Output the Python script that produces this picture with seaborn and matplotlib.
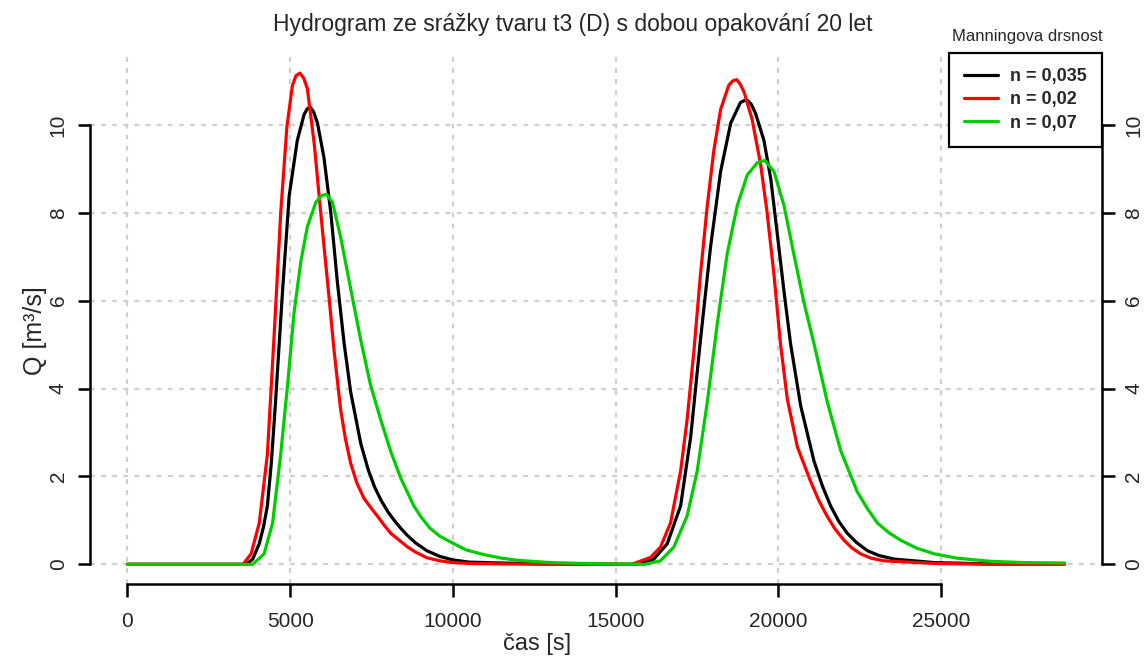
import matplotlib
matplotlib.use("Agg")
import matplotlib.pyplot as plt
import seaborn as sns
import pandas as pd
from matplotlib.lines import Line2D

# ---- data ----
t_black = [0, 3650, 3850, 4050, 4180, 4300, 4420, 4550, 4770, 4970, 5220, 5430, 5520,
           5610, 5720, 5840, 6040, 6250, 6450, 6660, 6860, 7170, 7400, 7600, 7800, 8000,
           8200, 8400, 8600, 8850, 9200, 9600, 10000, 10500, 11500, 13000, 15700, 16180,
           16590, 17000, 17310, 17610, 17920, 18230, 18540, 18840, 18950, 19050, 19170,
           19300, 19560, 19770, 19970, 20180, 20380, 20690, 21100, 21350, 21610, 21860,
           22120, 22400, 22740, 23100, 23560, 24790, 26500, 28800]
q_black = [0, 0, 0.12, 0.47, 0.85, 1.33, 2.30, 3.69, 6.27, 8.39, 9.65, 10.24, 10.36,
           10.41, 10.30, 10.04, 9.25, 8.0, 6.43, 5.02, 3.92, 2.75, 2.15, 1.75, 1.45, 1.20,
           1.0, 0.82, 0.66, 0.49, 0.31, 0.18, 0.10, 0.05, 0.03, 0.01, 0, 0.12,
           0.47, 1.33, 2.90, 5.10, 7.22, 8.94, 10.04, 10.51, 10.55, 10.56, 10.47,
           10.27, 9.65, 8.78, 7.53, 6.20, 5.02, 3.61, 2.35, 1.80, 1.33, 0.98,
           0.71, 0.50, 0.31, 0.20, 0.12, 0.04, 0.01, 0.01]

t_red = [0, 3550, 3800, 4050, 4300, 4510, 4710, 4900, 5070, 5180, 5300, 5420, 5530,
         5740, 5940, 6200, 6350, 6550, 6700, 6860, 7050, 7270, 7500, 7700, 7900, 8100,
         8350, 8600, 8850, 9200, 9600, 10000, 10500, 11500, 13000, 15500, 16080, 16380,
         16690, 17000, 17200, 17410, 17610, 17820, 18020, 18230, 18480, 18600, 18720,
         18830, 18950, 19200, 19460, 19660, 19870, 20070, 20280, 20590, 21000, 21250,
         21500, 21750, 22020, 22270, 22530, 22850, 23250, 24800, 26500, 28800]
q_red = [0, 0, 0.24, 0.94, 2.50, 5.25, 8.0, 9.96, 10.9, 11.12, 11.18, 11.06, 10.82,
         9.57, 8.0, 6.04, 4.86, 3.53, 2.85, 2.30, 1.85, 1.50, 1.27, 1.08, 0.88, 0.70,
         0.55, 0.40, 0.28, 0.15, 0.08, 0.04, 0.02, 0.01, 0, 0, 0.16, 0.39,
         0.94, 2.12, 3.29, 4.86, 6.59, 8.16, 9.41, 10.35, 10.90, 11.0, 11.03,
         10.93, 10.75, 10.12, 9.10, 8.0, 6.59, 5.02, 3.76, 2.67, 1.88, 1.45,
         1.10, 0.80, 0.55, 0.37, 0.24, 0.14, 0.08, 0.02, 0, 0]

t_green = [0, 3850, 4200, 4460, 4710, 4920, 5120, 5330, 5530, 5790, 5960, 6120, 6300,
           6550, 6860, 7170, 7470, 7800, 8100, 8400, 8800, 9050, 9300, 9600, 9900,
           10400, 10900, 11500, 12000, 13000, 14500, 15900, 16380, 16790, 17200, 17510,
           17820, 18130, 18430, 18740, 19050, 19360, 19590, 19870, 20180, 20480, 20790,
           21100, 21510, 21920, 22430, 22740, 23050, 23400, 23760, 24250, 24790, 25500,
           26500, 27500, 28800]
q_green = [0, 0, 0.24, 0.94, 2.51, 4.08, 5.73, 6.90, 7.69, 8.24, 8.39, 8.42, 8.24,
           7.45, 6.27, 5.10, 4.08, 3.25, 2.55, 1.96, 1.33, 1.05, 0.82, 0.64, 0.52,
           0.33, 0.23, 0.14, 0.09, 0.04, 0.01, 0, 0.08, 0.39, 1.10, 2.12,
           3.69, 5.49, 7.06, 8.16, 8.86, 9.14, 9.19, 8.94, 8.16, 7.06, 5.96,
           5.02, 3.69, 2.59, 1.65, 1.27, 0.94, 0.72, 0.55, 0.37, 0.24, 0.14,
           0.07, 0.04, 0.03]

series_labels = ["n = 0,035", "n = 0,02", "n = 0,07"]
series_colors = ["#000000", "#FF0000", "#00CD00"]
x_ticks = [0, 5000, 10000, 15000, 20000, 25000]
y_ticks = [0, 2, 4, 6, 8, 10]
title_text = "Hydrogram ze srážky tvaru t3 (D) s dobou opakování 20 let"
x_label = "čas [s]"
y_label = "Q [m³/s]"
legend_title = "Manningova drsnost"

# ---- figure ----
sns.set_style("white")
plt.rcParams["font.family"] = ["Liberation Sans", "DejaVu Sans"]

W, H = 1146, 659
fig = plt.figure(figsize=(W / 100, H / 100), dpi=100)
ax = fig.add_axes([90 / W, 75 / H, 1012 / W, 531 / H])

frames = []
for t, q, lab in [(t_black, q_black, series_labels[0]),
                  (t_red, q_red, series_labels[1]),
                  (t_green, q_green, series_labels[2])]:
    frames.append(pd.DataFrame({"t": t, "Q": q, "n": lab}))
df = pd.concat(frames, ignore_index=True)

for lab, col in zip(series_labels, series_colors):
    sub = df[df["n"] == lab]
    sns.lineplot(data=sub, x="t", y="Q", color=col, lw=2.3, sort=False,
                 estimator=None, ax=ax, legend=False, zorder=3)
for line in ax.get_lines():
    line.set_solid_joinstyle("round")
    line.set_solid_capstyle("round")

ax.set_xlim(-1152, 29952)
ax.set_ylim(-0.4476, 11.636)

grid_kw = dict(color="#cfcfcf", lw=1.6, ls=(0, (2.2, 2.8)), zorder=1)
for xv in x_ticks:
    ax.axvline(xv, **grid_kw)
for yv in y_ticks:
    ax.axhline(yv, **grid_kw)

ax.set_xticks(x_ticks)
ax.set_yticks(y_ticks)
ax.set_xticklabels([str(v) for v in x_ticks])
ax.set_yticklabels([str(v) for v in y_ticks])

for side in ["left", "right", "bottom"]:
    ax.spines[side].set_visible(True)
    ax.spines[side].set_color("black")
    ax.spines[side].set_linewidth(1.8)
ax.spines["top"].set_visible(False)
ax.spines["left"].set_bounds(0, 10)
ax.spines["right"].set_bounds(0, 10)
ax.spines["bottom"].set_bounds(0, 25000)

ax.tick_params(axis="x", direction="out", length=9, width=1.8, color="black",
               labelsize=15, pad=11, bottom=True)
ax.tick_params(axis="y", direction="out", length=9, width=1.8, color="black",
               labelsize=15, pad=7, left=True, right=True, labelright=True,
               labelrotation=90)
for lbl in ax.yaxis.get_ticklabels(which="both"):
    lbl.set_va("center")
ax.set_xlabel("")
ax.set_ylabel("")

handles = [Line2D([0], [0], color=c, lw=2.3) for c in series_colors]
leg = ax.legend(handles, series_labels, loc="upper right", bbox_to_anchor=(1.0, 1.0),
                frameon=True, fancybox=False, edgecolor="black", framealpha=1,
                borderaxespad=0, prop={"weight": "bold", "size": 13},
                handlelength=1.9, handletextpad=0.65, labelspacing=0.34,
                borderpad=0.85)
leg.get_frame().set_linewidth(1.6)
leg.set_zorder(5)

fig.text(1027 / W, 1 - 37 / H, legend_title, ha="center", va="center", fontsize=12)
fig.text(573 / W, 1 - 25 / H, title_text, ha="center", va="center", fontsize=16.5)
fig.text(537 / W, 1 - 644 / H, x_label, ha="center", va="center", fontsize=17)
fig.text(35 / W, 1 - 331 / H, y_label, ha="center", va="center", fontsize=18,
         rotation=90)

fig.savefig("out.png", dpi=100)
